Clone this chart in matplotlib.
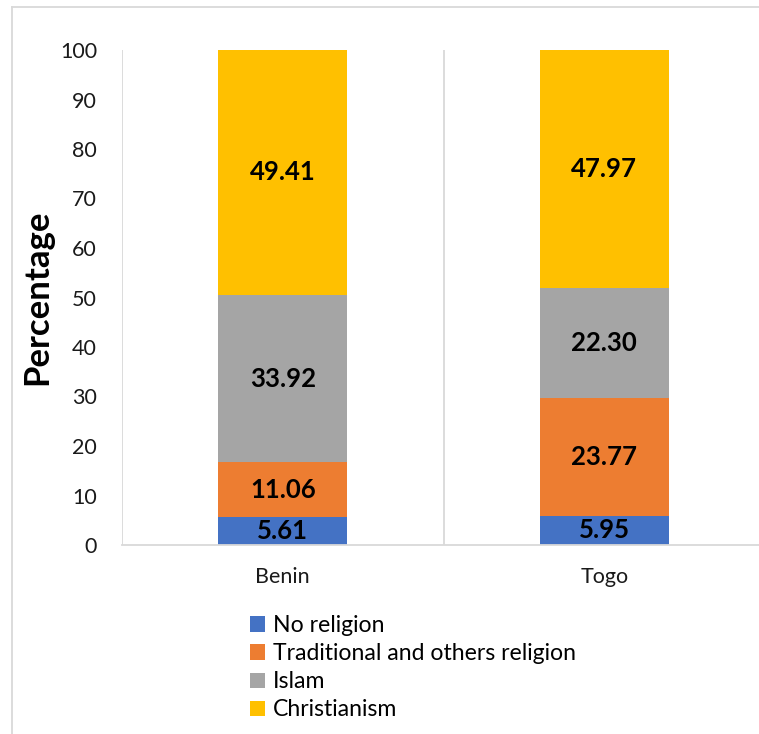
import numpy as np
import matplotlib.pyplot as plt
from matplotlib.lines import Line2D

plt.rcParams['font.family'] = ['Lato', 'DejaVu Sans']

countries = ['Benin', 'Togo']
series_names = ['No religion', 'Traditional and others religion', 'Islam', 'Christianism']
no_religion = [5.61, 5.95]
traditional = [11.06, 23.77]
islam = [33.92, 22.30]
christianism = [49.41, 47.97]
colors = ['#4472C4', '#ED7D31', '#A5A5A5', '#FFC000']

W, H = 759, 734
fig = plt.figure(figsize=(W / 100, H / 100), dpi=100)

# plot area runs past the right edge, like the cropped original
left, right, bottom, top = 122, 765, 545, 50
ax = fig.add_axes([left / W, (H - bottom) / H, (right - left) / W, (bottom - top) / H])
ax.patch.set_visible(False)

ind = np.arange(len(countries))
width = 0.4
base = np.zeros(len(countries))
for name, vals, c in zip(series_names, [no_religion, traditional, islam, christianism], colors):
    rects = ax.bar(ind, vals, width, bottom=base, color=c, label=name)
    ax.bar_label(rects, labels=['%.2f' % v for v in vals], label_type='center',
                 fontsize=18.5, fontweight='bold', color='black')
    base += np.array(vals)

ax.set_xlim(-0.5, len(countries) - 0.5)
ax.set_ylim(0, 100)
ax.set_yticks(np.arange(0, 101, 10))
ax.set_xticks(ind, countries)
# category separators (the last one is cut off in the original)
for b in ind - 0.5:
    ax.axvline(b, color='#D9D9D9', lw=1.3, zorder=0)

for s in ['top', 'right', 'left']:
    ax.spines[s].set_visible(False)
ax.spines['bottom'].set_color('#D9D9D9')
ax.spines['bottom'].set_linewidth(1.3)
ax.tick_params(axis='both', length=0, labelsize=15.5, colors='#1a1a1a')
ax.tick_params(axis='y', pad=18)
ax.tick_params(axis='x', pad=16)
ax.set_ylabel('Percentage', fontsize=25, fontweight='bold', labelpad=5)

handles, labels = ax.get_legend_handles_labels()
fig.legend(handles, labels, loc='upper left', bbox_to_anchor=(250 / W, 1 - 615 / H),
           frameon=False, fontsize=16.6, handlelength=0.65, handleheight=0.65,
           handletextpad=0.35, labelspacing=0.31, borderpad=0, borderaxespad=0)

# chart frame: only top and left edges are inside the crop
fig.add_artist(Line2D([12 / W, 1.05], [1 - 7 / H, 1 - 7 / H], transform=fig.transFigure,
                      color='#D9D9D9', lw=1.3))
fig.add_artist(Line2D([12 / W, 12 / W], [-0.05, 1 - 7 / H], transform=fig.transFigure,
                      color='#D9D9D9', lw=1.3))

fig.savefig('out.png', dpi=100)
